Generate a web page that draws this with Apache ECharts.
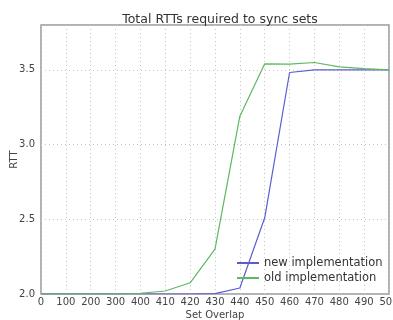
<!DOCTYPE html>
<html>
<head>
<meta charset="utf-8">
<script src="https://cdn.jsdelivr.net/npm/echarts@6/dist/echarts.min.js"></script>
<style>
  html, body { margin: 0; padding: 0; background: #fff; }
  #chart { width: 393px; height: 320px; }
</style>
</head>
<body>
<div id="chart"></div>
<script>
// 横轴类别（集合重叠数）
const overlaps = ['0', '100', '200', '300', '400', '410', '420', '430', '440', '450', '460', '470', '480', '490', '500'];
// 新实现 RTT
const newImpl = [2.0, 2.0, 2.0, 2.0, 2.0, 2.0, 2.0, 2.003, 2.04, 2.51, 3.482, 3.5, 3.5, 3.5, 3.5];
// 旧实现 RTT
const oldImpl = [2.0, 2.0, 2.0, 2.0, 2.005, 2.02, 2.075, 2.3, 3.19, 3.54, 3.538, 3.549, 3.52, 3.508, 3.5];
const yTicks = [2.0, 2.5, 3.0, 3.5];

const chart = echarts.init(document.getElementById('chart'));
const font = 'DejaVu Sans';

chart.setOption({
    animation: false,
    title: {
        text: 'Total RTTs required to sync sets',
        left: 215, top: 8, textAlign: 'center',
        textStyle: { fontFamily: font, fontSize: 12.5, fontWeight: 'normal', color: '#333' }
    },
    legend: {
        orient: 'vertical',
        left: 232, top: 252,
        itemWidth: 22, itemHeight: 2, itemGap: 3,
        icon: 'rect',
        textStyle: { fontFamily: font, fontSize: 11.5, color: '#333' },
        data: ['new implementation', 'old implementation']
    },
    grid: {
        left: 41, right: 4, top: 25, bottom: 26,
        outerBoundsMode: 'none',
        containLabel: false,
        show: true, borderColor: '#999', borderWidth: 1.5
    },
    xAxis: {
        type: 'category',
        boundaryGap: false,
        data: overlaps,
        name: 'Set Overlap', nameLocation: 'middle', nameGap: 16,
        nameMoveOverlap: false,
        nameTextStyle: { fontFamily: font, fontSize: 10, color: '#444' },
        axisLine: { show: false },
        axisTick: { show: false },
        axisLabel: { fontFamily: font, fontSize: 10, color: '#444', margin: 3, interval: 0 },
        splitLine: { show: true, lineStyle: { type: [1, 3], color: '#c4c4c4' } }
    },
    yAxis: {
        type: 'value',
        min: 2.0, max: 3.8, interval: 0.5,
        name: 'RTT', nameLocation: 'middle', nameGap: 22, nameRotate: 90,
        nameMoveOverlap: false,
        nameTextStyle: { fontFamily: font, fontSize: 10, color: '#444' },
        axisLine: { show: false },
        axisTick: { show: false },
        axisLabel: {
            fontFamily: font, fontSize: 10, color: '#444', margin: 6,
            formatter: v => yTicks.some(t => Math.abs(t - v) < 1e-6) ? v.toFixed(1) : ''
        },
        splitLine: { show: true, lineStyle: { type: [1, 3], color: '#c4c4c4' } }
    },
    series: [
        {
            name: 'new implementation',
            type: 'line',
            data: newImpl,
            showSymbol: false,
            lineStyle: { width: 1.2, color: '#5c5cd0' },
            itemStyle: { color: '#5c5cd0' }
        },
        {
            name: 'old implementation',
            type: 'line',
            data: oldImpl,
            showSymbol: false,
            lineStyle: { width: 1.2, color: '#5fb85f' },
            itemStyle: { color: '#5fb85f' }
        }
    ]
});
</script>
</body>
</html>
